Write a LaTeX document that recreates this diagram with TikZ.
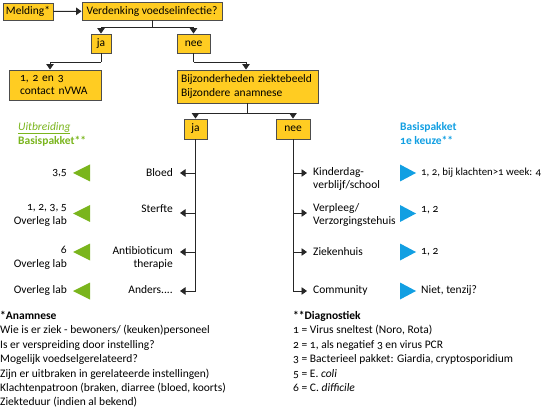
\documentclass[tikz,border=0pt]{standalone}
\usepackage{fontspec}
\setmainfont{Carlito}[Numbers=OldStyle]
\usepackage{xcolor}
\usetikzlibrary{arrows.meta}
\definecolor{boxyellow}{HTML}{FFCC22}
\definecolor{boxline}{HTML}{4D4D4D}
\definecolor{keuzeblue}{HTML}{129FE2}
\definecolor{uitgreen}{HTML}{7AB51D}

\begin{document}
\begin{tikzpicture}[x=1pt,y=-1pt,font=\fontsize{11.5}{13.5}\selectfont,
  box/.style={draw=boxline,line width=0.9pt,fill=boxyellow,inner sep=0pt},
  line/.style={draw=black!85,line width=0.9pt},
  arr/.style={-{Triangle[width=7.5pt,length=5.5pt]}},
  lbl/.style={inner sep=0pt}]
  \useasboundingbox (0,0) rectangle (544,409);

% top of the tree
\node[box,minimum width=50pt,minimum height=17pt] (melding) at (28,11.5) {Melding*};
\node[box,minimum width=140pt,minimum height=18pt] (verdenking) at (152,11) {Verdenking voedselinfectie?};
\node[box,minimum width=20pt,minimum height=19pt] (ja1) at (101,43.5) {ja};
\node[box,minimum width=33pt,minimum height=19pt] (nee1) at (193.5,43.5) {nee};
\node[box,minimum height=30pt,inner xsep=11pt,text width=70pt,align=left] (nvwa) at (55,85) {1, 2 en 3\\contact nVWA};
\node[box,minimum height=33pt,inner xsep=4pt,text width=133pt,align=left] (bijzonder) at (247.5,86.5) {Bijzonderheden ziektebeeld\\Bijzondere anamnese};
\node[box,minimum width=23pt,minimum height=20pt] (ja2) at (195.5,129) {ja};
\node[box,minimum width=34pt,minimum height=20pt] (nee2) at (293,129) {nee};

\coordinate (split1) at (152,27);
\coordinate (split2) at (101,62);
\coordinate (split3) at (193.5,62);
\coordinate (split4) at (247.5,113);

\draw[line,arr] (melding) -- (verdenking);
\draw[line] (verdenking) -- (split1);
\draw[line,arr] (split1) -| (ja1);
\draw[line,arr] (split1) -| (nee1);
\draw[line] (ja1) -- (split2);
\draw[line,arr] (split2) -| ([xshift=-5pt]nvwa.north);
\draw[line] (nee1) -- (split3);
\draw[line,arr] (split3) -| ([xshift=-1.5pt]bijzonder.north);
\draw[line] (bijzonder) -- (split4);
\draw[line,arr] (split4) -| (ja2);
\draw[line,arr] (split4) -| (nee2);

% ja
\node[lbl,anchor=east] (bloed) at (173,173) {Bloed};
\node[lbl,anchor=east] (sterfte) at (173,209) {Sterfte};
\node[lbl,anchor=north east,align=right] (antibiotica) at (173,246.2) {Antibioticum\\therapie};
\node[lbl,anchor=east] (anders) at (173,290) {Anders....};

\coordinate (jr1) at (195.5,173);
\coordinate (jr2) at (195.5,213);
\coordinate (jr3) at (195.5,252);
\coordinate (jr4) at (195.5,291);

\draw[line,arr,shorten >=7pt] (ja2) |- (jr4 -| anders.east);
\draw[line,arr,shorten >=7pt] (jr1) -- (jr1 -| bloed.east);
\draw[line,arr,shorten >=7pt] (jr2) -- (jr2 -| sterfte.east);
\draw[line,arr,shorten >=7pt] (jr3) -- (jr3 -| antibiotica.east);

% nee
\node[lbl,anchor=north west,align=left] (kinderdag) at (313,167.2) {Kinderdag-\\verblijf/school};
\node[lbl,anchor=north west,align=left] (verpleeg) at (313,203.2) {Verpleeg/\\Verzorgingstehuis};
\node[lbl,anchor=west] (ziekenhuis) at (313,252) {Ziekenhuis};
\node[lbl,anchor=west] (community) at (313,290) {Community};

\coordinate (nr1) at (293,173);
\coordinate (nr2) at (293,213);
\coordinate (nr3) at (293,252);
\coordinate (nr4) at (293,291);

\draw[line,arr,shorten >=6pt] (nee2) |- (nr4 -| community.west);
\draw[line,arr,shorten >=6pt] (nr1) -- (nr1 -| kinderdag.west);
\draw[line,arr,shorten >=6pt] (nr2) -- (nr2 -| verpleeg.west);
\draw[line,arr,shorten >=6pt] (nr3) -- (nr3 -| ziekenhuis.west);

% uitbreiding
\node[lbl,anchor=north west,align=left,text=uitgreen,font=\fontsize{11.5}{14.5}\selectfont] (uitbreiding) at (18,122)
  {\underline{\textit{Uitbreiding}}\\\textbf{Basispakket**}};
\fill[uitgreen] (90,164.5) -- (73,173) -- (90,181.5) -- cycle;
\fill[uitgreen] (90,205) -- (73,213.5) -- (90,222) -- cycle;
\fill[uitgreen] (90,243.5) -- (73,252) -- (90,260.5) -- cycle;
\fill[uitgreen] (90,282.5) -- (73,291) -- (90,299.5) -- cycle;
\node[lbl,anchor=east] (u1) at (67,173) {3,5};
\node[lbl,anchor=north east,align=right] (u2) at (67,204.2) {1, 2, 3, 5\\Overleg lab};
\node[lbl,anchor=north east,align=right] (u3) at (67,246.2) {6\\Overleg lab};
\node[lbl,anchor=east] (u4) at (67,290) {Overleg lab};

% basispakket
\node[lbl,anchor=north west,align=left,text=keuzeblue,font=\fontsize{11.5}{14.5}\selectfont] (basispakket) at (400,122)
  {\textbf{Basispakket}\\\textbf{1e keuze**}};
\fill[keuzeblue] (400,164.5) -- (416,173) -- (400,181.5) -- cycle;
\fill[keuzeblue] (400,205) -- (416,213.5) -- (400,222) -- cycle;
\fill[keuzeblue] (400,243.5) -- (416,252) -- (400,260.5) -- cycle;
\fill[keuzeblue] (400,282.5) -- (416,291) -- (400,299.5) -- cycle;
\node[lbl,anchor=west,font=\fontsize{10.8}{13.5}\selectfont] (b1) at (421,173) {1, 2, bij klachten>1 week: 4};
\node[lbl,anchor=west] (b2) at (421,210) {1, 2};
\node[lbl,anchor=west] (b3) at (421,252) {1, 2};
\node[lbl,anchor=west] (b4) at (421,291) {Niet, tenzij?};

% voetnoten
\node[lbl,anchor=north west,align=left,font=\fontsize{11.5}{14.4}\selectfont] (anamnese) at (0,311)
  {\textbf{*Anamnese}\\
   Wie is er ziek - bewoners/ (keuken)personeel\\
   Is er verspreiding door instelling?\\
   Mogelijk voedselgerelateerd?\\
   Zijn er uitbraken in gerelateerde instellingen)\\
   Klachtenpatroon (braken, diarree (bloed, koorts)\\
   Ziekteduur (indien al bekend)};
\node[lbl,anchor=north west,align=left,font=\fontsize{11.5}{14.4}\selectfont] (diagnostiek) at (293,311)
  {\textbf{**Diagnostiek}\\
   1 = Virus sneltest (Noro, Rota)\\
   2 = 1, als negatief 3 en virus PCR\\
   3 = Bacterieel pakket: Giardia, cryptosporidium\\
   5 = E. \textit{coli}\\
   6 = C. \textit{difficile}};

\end{tikzpicture}
\end{document}
